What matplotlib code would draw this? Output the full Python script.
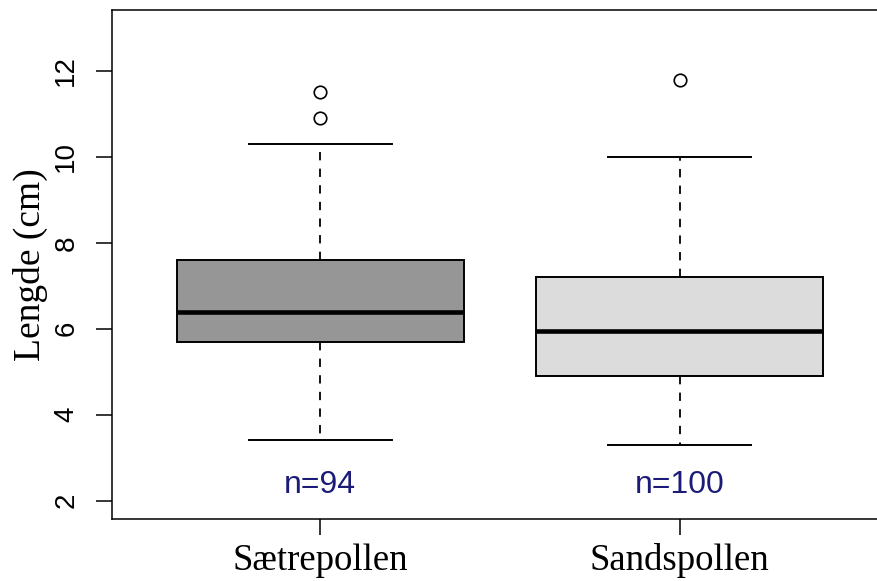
import matplotlib
matplotlib.use("Agg")
import matplotlib.pyplot as plt

# Length of fish (cm) in two lagoons: summary statistics per group
groups = ["Sætrepollen", "Sandspollen"]
whisker_low = [3.4, 3.3]
quartile1 = [5.7, 4.9]
medians = [6.4, 5.95]
quartile3 = [7.6, 7.2]
whisker_high = [10.3, 10.0]
outliers = [[10.9, 11.5], [11.8]]
counts = [94, 100]
box_colors = ["#969696", "#dcdcdc"]
y_ticks = [2, 4, 6, 8, 10, 12]

W, H = 877, 581
fig = plt.figure(figsize=(W / 100, H / 100), dpi=100)
ax = fig.add_axes([112 / W, 1 - 519 / H, (888 - 112) / W, (519 - 9.5) / H])

stats = []
for i, g in enumerate(groups):
    stats.append(dict(label=g, whislo=whisker_low[i], q1=quartile1[i],
                      med=medians[i], q3=quartile3[i], whishi=whisker_high[i],
                      fliers=outliers[i]))

positions = list(range(1, len(groups) + 1))
bp = ax.bxp(stats, positions=positions, widths=0.8, patch_artist=True,
            showfliers=True,
            boxprops=dict(edgecolor="black", linewidth=1.4),
            medianprops=dict(color="black", linewidth=3.3, solid_capstyle="butt"),
            whiskerprops=dict(color="black", linewidth=1.3, linestyle=(0, (4.6, 4.6))),
            capprops=dict(color="black", linewidth=1.4),
            capwidths=0.4,
            flierprops=dict(marker="o", markersize=9, markerfacecolor="none",
                            markeredgecolor="black", markeredgewidth=1.2))
for patch, c in zip(bp["boxes"], box_colors):
    patch.set_facecolor(c)

for x, n in zip(positions, counts):
    ax.text(x, 2.35, f"n={n}", ha="center", va="center", color="#1c1c78",
            fontsize=23, family="Liberation Sans")

ax.set_xlim(0.42, 2.58)
ax.set_ylim(1.57, 13.43)
ax.set_yticks(y_ticks)
ax.set_yticklabels([str(t) for t in y_ticks], rotation=90, va="center",
                   family="Liberation Sans", fontsize=20)
ax.set_xticks(positions)
ax.set_xticklabels(groups, family="Liberation Serif", fontsize=26.5)
ax.tick_params(axis="y", length=11.5, width=1.1, pad=12)
ax.tick_params(axis="x", length=11.5, width=1.1, pad=6)
ax.set_ylabel("Lengde (cm)", family="Liberation Serif", fontsize=27)
ax.yaxis.set_label_coords((48 - 112) / 776, 0.5)
for s in ax.spines.values():
    s.set_linewidth(1.1)
ax.spines["right"].set_visible(False)

fig.savefig("out.png", dpi=100)
